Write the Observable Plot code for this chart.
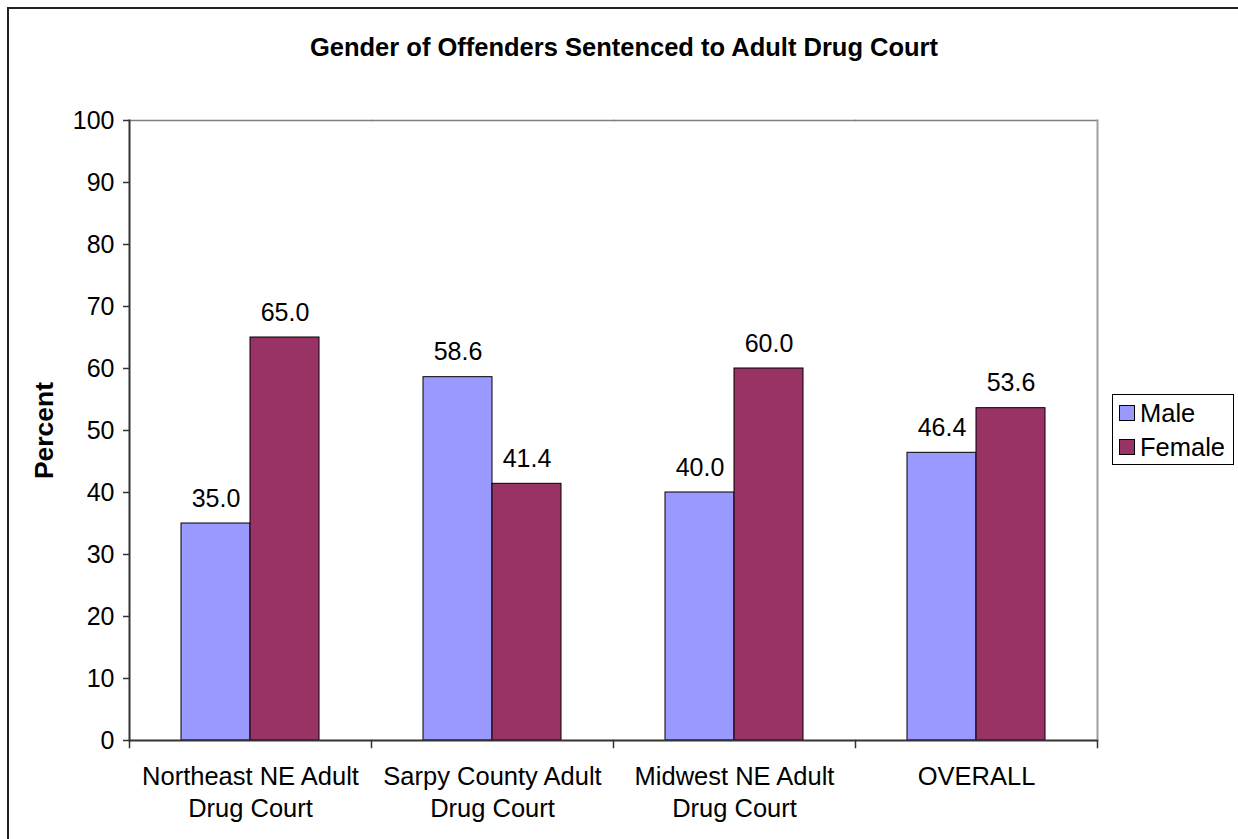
<!DOCTYPE html>
<html>
<head>
<meta charset="utf-8">
<script src="https://cdn.jsdelivr.net/npm/d3@7"></script>
<script src="https://cdn.jsdelivr.net/npm/@observablehq/plot@0.6"></script>
<style>
  html, body { margin: 0; padding: 0; background: #fff; }
  #wrap { position: relative; width: 1238px; height: 839px; overflow: hidden; font-family: Arial, "Liberation Sans", sans-serif; }
  #frame { position: absolute; left: 7px; top: 7px; width: 1260px; height: 860px; border-left: 2px solid #222; border-top: 2px solid #222; box-sizing: border-box; pointer-events: none; }
  #chart { position: absolute; left: 0; top: 0; }
  #title { position: absolute; left: 0; width: 1248px; top: 33px; text-align: center; font-weight: bold; font-size: 25.5px; color: #000; }
  #legend { position: absolute; left: 1112px; top: 394px; width: 122px; height: 71px; border: 1px solid #000; box-sizing: border-box; background: #fff; font-size: 25.5px; }
  .item { position: absolute; left: 6px; display: flex; align-items: center; height: 30px; }
  .sw { width: 14px; height: 14px; border: 1px solid #000; margin-right: 5px; }
</style>
</head>
<body>
<div id="wrap">
  <div id="chart"></div>
  <div id="frame"></div>
  <div id="title"></div>
  <div id="legend"></div>
</div>
<script>
const titleText = "Gender of Offenders Sentenced to Adult Drug Court";
const yLabel = "Percent";
const categories = ["Northeast NE Adult\nDrug Court", "Sarpy County Adult\nDrug Court", "Midwest NE Adult\nDrug Court", "OVERALL"];
const genders = ["Male", "Female"];
const maleValues = [35.0, 58.6, 40.0, 46.4];
const femaleValues = [65.0, 41.4, 60.0, 53.6];
const yTicks = [0, 10, 20, 30, 40, 50, 60, 70, 80, 90, 100];
const colors = ["#9999FF", "#993366"];

const data = categories.flatMap((c, i) => [
  {category: c, gender: "Male", value: maleValues[i]},
  {category: c, gender: "Female", value: femaleValues[i]}
]);

const chart = Plot.plot({
  width: 1238,
  height: 839,
  marginLeft: 128,
  marginRight: 140,
  marginTop: 120,
  marginBottom: 99,
  style: {fontFamily: 'Arial, "Liberation Sans", sans-serif', fontSize: "25px", color: "#000", background: "transparent"},
  fx: {domain: categories, padding: 0, label: null},
  x: {domain: genders, paddingInner: 0, paddingOuter: 0.745, axis: null},
  y: {domain: [0, 100], label: null},
  color: {domain: genders, range: colors},
  marks: [
    Plot.frame({anchor: "top", stroke: "#808080", strokeOpacity: 1, strokeWidth: 1.5}),
    Plot.frame({anchor: "right", stroke: "#a0a0a0", strokeOpacity: 1, strokeWidth: 2, facetAnchor: "right"}),
    Plot.barY(data, {fx: "category", x: "gender", y: "value", fill: "gender", stroke: "#000", strokeWidth: 1}),
    Plot.text(data, {fx: "category", x: "gender", y: "value", text: d => d.value.toFixed(1), lineAnchor: "bottom", dy: -17, fontSize: 25}),
    Plot.ruleY([0], {stroke: "#333", strokeWidth: 2}),
    Plot.frame({anchor: "left", stroke: "#333", strokeOpacity: 1, strokeWidth: 2, facetAnchor: "left"}),
    Plot.frame({anchor: "left", stroke: "#333", strokeOpacity: 1, strokeWidth: 1.5, insetTop: 620, insetBottom: -7}),
    Plot.frame({anchor: "right", stroke: "#333", strokeOpacity: 1, strokeWidth: 1.5, insetTop: 620, insetBottom: -7, facetAnchor: "right"}),
    Plot.axisY({ticks: yTicks, tickSize: 6, tickPadding: 9, tickFormat: d => String(d), fontSize: 25, label: null, stroke: "#333", strokeWidth: 1.5}),
    Plot.axisFx({anchor: "bottom", tickSize: 0, tickPadding: 21, label: null, fontSize: 25.5, lineHeight: 1.28}),
    Plot.text([yLabel], {text: d => d, frameAnchor: "left", textAnchor: "middle", lineAnchor: "middle", rotate: -90, dx: -85, fontWeight: "bold", fontSize: 26.5, facetAnchor: "left"})
  ]
});
document.getElementById("chart").appendChild(chart);
document.getElementById("title").textContent = titleText;

const legend = document.getElementById("legend");
genders.forEach((g, i) => {
  const item = document.createElement("div");
  item.className = "item";
  item.style.top = (i === 0 ? 3 : 37) + "px";
  const sw = document.createElement("div");
  sw.className = "sw";
  sw.style.background = colors[i];
  const t = document.createElement("span");
  t.textContent = g;
  item.appendChild(sw);
  item.appendChild(t);
  legend.appendChild(item);
});
</script>
</body>
</html>
